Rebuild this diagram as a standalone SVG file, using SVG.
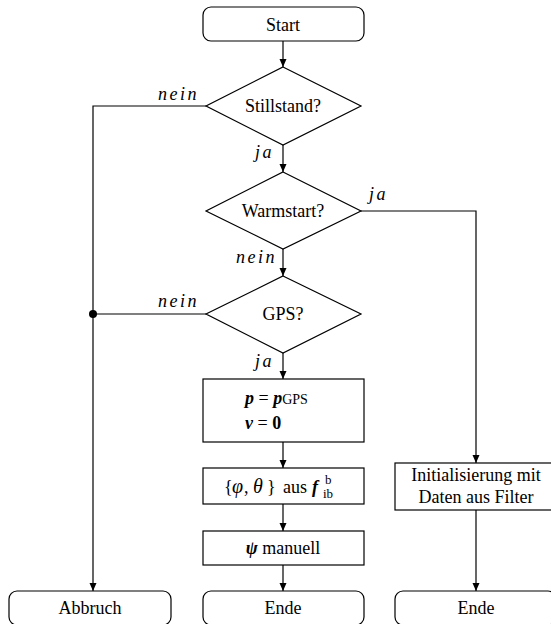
<svg xmlns="http://www.w3.org/2000/svg" width="551" height="624" viewBox="0 0 551 624">
<style>
.n{fill:#fff;stroke:#000;stroke-width:1.2}
.t{font-family:"Liberation Serif","Times New Roman",serif;font-size:18px;fill:#000}
.c{text-anchor:middle}
.lb{font-family:"Liberation Serif","Times New Roman",serif;font-size:18px;font-style:italic;letter-spacing:2.5px;fill:#000}
.m{font-weight:bold;font-style:italic}
.i{font-style:italic;font-size:20px}
.s{font-size:13px}
.e{fill:none;stroke:#000;stroke-width:1.2}
</style>
<defs>
<marker id="ah" viewBox="0 0 8 10" refX="8" refY="5" markerWidth="8" markerHeight="10" markerUnits="userSpaceOnUse" orient="auto">
<path d="M0,1.5 L8,5 L0,8.5 Z" fill="#000"/>
</marker>
</defs>
<g id="connectors">
<path class="e" d="M283,41 V67" marker-end="url(#ah)"/>
<path class="e" d="M283,145 V172" marker-end="url(#ah)"/>
<path class="e" d="M283,249 V276" marker-end="url(#ah)"/>
<path class="e" d="M283,353 V379" marker-end="url(#ah)"/>
<path class="e" d="M283,442 V468" marker-end="url(#ah)"/>
<path class="e" d="M283,504 V531" marker-end="url(#ah)"/>
<path class="e" d="M283,565 V591" marker-end="url(#ah)"/>
<path class="e" d="M206,106 H93 V591" marker-end="url(#ah)"/>
<path class="e" d="M206,314 H93"/>
<circle cx="93" cy="314" r="4" fill="#000"/>
<path class="e" d="M361,211 H476 V463" marker-end="url(#ah)"/>
<path class="e" d="M476,510 V591" marker-end="url(#ah)"/>
<text class="lb" x="158" y="100">nein</text>
<text class="lb" x="255" y="158">ja</text>
<text class="lb" x="369" y="200">ja</text>
<text class="lb" x="236" y="263">nein</text>
<text class="lb" x="158" y="307">nein</text>
<text class="lb" x="255" y="367">ja</text>
</g>
<g id="start">
<rect class="n" x="203" y="7" width="161" height="34" rx="8"/>
<text class="t c" x="283" y="31">Start</text>
</g>
<g id="stillstand">
<polygon class="n" points="283,67 361,106 283,145 206,106"/>
<text class="t c" x="283" y="112">Stillstand?</text>
</g>
<g id="warmstart">
<polygon class="n" points="283,172 361,211 283,249 206,211"/>
<text class="t c" x="283" y="217">Warmstart?</text>
</g>
<g id="gps">
<polygon class="n" points="283,276 361,314 283,353 206,314"/>
<text class="t c" x="283" y="320">GPS?</text>
</g>
<g id="setpos">
<rect class="n" x="203" y="379" width="161" height="63"/>
<text class="t" x="245" y="404"><tspan class="m">p</tspan> = <tspan class="m">p</tspan><tspan font-size="14">GPS</tspan></text>
<text class="t" x="245" y="429"><tspan class="m">v</tspan> = <tspan font-weight="bold">0</tspan></text>
</g>
<g id="attitude">
<rect class="n" x="203" y="468" width="161" height="36"/>
<text class="t" y="493"><tspan x="224">{</tspan><tspan class="i" x="232">φ</tspan><tspan x="244">,</tspan><tspan class="i" x="253">θ</tspan><tspan x="267">}</tspan><tspan x="283">aus</tspan><tspan class="m" x="312">f</tspan></text>
<text class="t s" x="323" y="498">ib</text>
<text class="t s" x="325" y="484">b</text>
</g>
<g id="heading">
<rect class="n" x="203" y="531" width="161" height="34"/>
<text class="t c" x="283" y="554"><tspan class="m">ψ</tspan> manuell</text>
</g>
<g id="init">
<rect class="n" x="395" y="463" width="161" height="47"/>
<text class="t c" x="476" y="481">Initialisierung mit</text>
<text class="t c" x="476" y="503">Daten aus Filter</text>
</g>
<g id="abbruch">
<rect class="n" x="9" y="591" width="162" height="34" rx="8"/>
<text class="t c" x="90" y="614">Abbruch</text>
</g>
<g id="ende1">
<rect class="n" x="203" y="591" width="161" height="34" rx="8"/>
<text class="t c" x="283" y="614">Ende</text>
</g>
<g id="ende2">
<rect class="n" x="395" y="591" width="161" height="34" rx="8"/>
<text class="t c" x="476" y="614">Ende</text>
</g>
</svg>
